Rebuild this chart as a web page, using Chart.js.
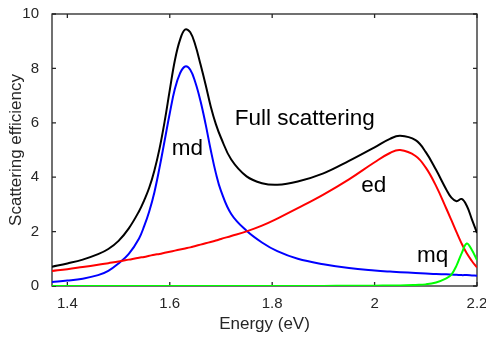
<!DOCTYPE html>
<html>
<head>
<meta charset="utf-8">
<script src="https://cdn.jsdelivr.net/npm/chart.js@4/dist/chart.umd.min.js"></script>
<style>
  html, body { margin: 0; padding: 0; background: #fff; }
</style>
</head>
<body>
<canvas id="chart" width="486" height="337"></canvas>
<script>
// values
const energy   = [1.37, 1.40, 1.43, 1.46, 1.48, 1.50, 1.52, 1.54, 1.55, 1.56, 1.57, 1.58, 1.59, 1.60, 1.61, 1.62, 1.63, 1.64, 1.65, 1.66, 1.67, 1.68, 1.69, 1.70, 1.72, 1.75, 1.78, 1.81, 1.85, 1.90, 1.95, 2.00, 2.03, 2.05, 2.08, 2.10, 2.12, 2.14, 2.15, 2.16, 2.17, 2.18, 2.19, 2.20];
const fullScat = [0.71, 0.83, 0.97, 1.17, 1.36, 1.66, 2.12, 2.75, 3.15, 3.62, 4.25, 5.05, 6.05, 7.20, 8.30, 9.05, 9.43, 9.33, 8.85, 8.15, 7.40, 6.60, 5.95, 5.45, 4.65, 4.03, 3.78, 3.72, 3.84, 4.14, 4.60, 5.10, 5.41, 5.52, 5.36, 4.92, 4.27, 3.55, 3.25, 3.12, 3.20, 2.95, 2.45, 1.95];
const mdScat   = [0.15, 0.20, 0.27, 0.40, 0.56, 0.83, 1.18, 1.75, 2.20, 2.75, 3.45, 4.35, 5.35, 6.35, 7.25, 7.82, 8.07, 7.95, 7.48, 6.80, 5.95, 5.00, 4.15, 3.50, 2.65, 2.03, 1.60, 1.28, 1.00, 0.80, 0.66, 0.57, 0.53, 0.51, 0.48, 0.46, 0.44, 0.43, 0.42, 0.41, 0.40, 0.40, 0.39, 0.38];
const edScat   = [0.55, 0.62, 0.70, 0.78, 0.84, 0.90, 0.97, 1.04, 1.07, 1.11, 1.15, 1.18, 1.22, 1.26, 1.30, 1.34, 1.38, 1.42, 1.47, 1.52, 1.57, 1.62, 1.67, 1.73, 1.84, 2.01, 2.22, 2.48, 2.86, 3.36, 3.92, 4.55, 4.89, 5.00, 4.78, 4.35, 3.68, 2.85, 2.42, 1.98, 1.56, 1.20, 0.92, 0.68];
const mqScat   = [0, 0, 0, 0, 0, 0, 0, 0, 0, 0, 0, 0, 0, 0, 0, 0, 0, 0, 0, 0, 0, 0, 0, 0, 0, 0, 0, 0, 0, 0, 0.01, 0.01, 0.02, 0.02, 0.04, 0.06, 0.13, 0.28, 0.42, 0.75, 1.20, 1.56, 1.32, 0.95];

const xTicks = [1.4, 1.6, 1.8, 2.0, 2.2];
const yTicks = [0, 2, 4, 6, 8, 10];

const noteText = ['Full scattering', 'md', 'ed', 'mq'];
const noteX    = [1.727, 1.604, 1.974, 2.083];
const noteY    = [5.92, 4.80, 3.44, 0.88];

const FONT = '"Liberation Sans", Arial, sans-serif';
const AX = '#262626';

function series(ys) {
  return energy.map((x, i) => ({ x: x, y: ys[i] }));
}

function lineSet(label, ys, color, order) {
  return {
    label: label,
    data: series(ys),
    showLine: true,
    borderColor: color,
    backgroundColor: color,
    borderWidth: 2,
    pointRadius: 0,
    tension: 0.4,
    order: order
  };
}

// MATLAB-like box with inward ticks on all four sides
const boxTicks = {
  id: 'boxTicks',
  beforeDatasetsDraw(chart) {
    const { ctx, chartArea: a, scales: { x, y } } = chart;
    ctx.save();
    ctx.strokeStyle = AX;
    ctx.lineWidth = 1.3;
    ctx.beginPath();
    xTicks.forEach(v => {
      const px = x.getPixelForValue(v);
      ctx.moveTo(px, a.bottom); ctx.lineTo(px, a.bottom - 4);
      ctx.moveTo(px, a.top);    ctx.lineTo(px, a.top + 4);
    });
    yTicks.forEach(v => {
      const py = y.getPixelForValue(v);
      ctx.moveTo(a.left, py);  ctx.lineTo(a.left + 4, py);
      ctx.moveTo(a.right, py); ctx.lineTo(a.right - 4, py);
    });
    ctx.stroke();
    ctx.strokeRect(a.left, a.top, a.right - a.left, a.bottom - a.top);
    ctx.restore();
  }
};

const notes = {
  id: 'notes',
  afterDatasetsDraw(chart) {
    const { ctx, scales: { x, y } } = chart;
    ctx.save();
    ctx.fillStyle = '#000';
    ctx.font = '22.5px ' + FONT;
    ctx.textAlign = 'left';
    ctx.textBaseline = 'alphabetic';
    noteText.forEach((t, i) => {
      ctx.fillText(t, x.getPixelForValue(noteX[i]), y.getPixelForValue(noteY[i]));
    });
    ctx.restore();
  }
};

new Chart(document.getElementById('chart'), {
  type: 'scatter',
  data: {
    datasets: [
      lineSet('Full scattering', fullScat, '#000000', 4),
      lineSet('md', mdScat, '#0000ff', 3),
      lineSet('ed', edScat, '#ff0000', 2),
      lineSet('mq', mqScat, '#00ff00', 1)
    ]
  },
  options: {
    responsive: false,
    animation: false,
    layout: { padding: { left: 0, right: 9, top: 14, bottom: 0 } },
    plugins: { legend: { display: false }, tooltip: { enabled: false } },
    scales: {
      x: {
        type: 'linear',
        min: 1.37, max: 2.2,
        grid: { display: false },
        border: { display: false },
        afterBuildTicks: s => { s.ticks = xTicks.map(v => ({ value: v })); },
        afterFit: s => { s.height = 51; s.paddingLeft = 0; s.paddingRight = 0; },
        ticks: {
          color: AX, padding: 1, maxRotation: 0,
          font: { family: FONT, size: 15 },
          callback: v => String(Math.round(v * 10) / 10)
        },
        title: {
          display: true, text: 'Energy (eV)', color: AX,
          font: { family: FONT, size: 17 },
          padding: { top: 0, bottom: 2 }
        }
      },
      y: {
        type: 'linear',
        min: 0, max: 10,
        grid: { display: false },
        border: { display: false },
        afterBuildTicks: s => { s.ticks = yTicks.map(v => ({ value: v })); },
        afterFit: s => { s.width = 52; s.paddingTop = 0; s.paddingBottom = 0; },
        ticks: {
          color: AX, padding: 5,
          font: { family: FONT, size: 15 }
        },
        title: {
          display: true, text: 'Scattering efficiency', color: AX,
          font: { family: FONT, size: 17 },
          padding: { top: 6, bottom: 0 }
        }
      }
    }
  },
  plugins: [boxTicks, notes]
});
</script>
</body>
</html>
